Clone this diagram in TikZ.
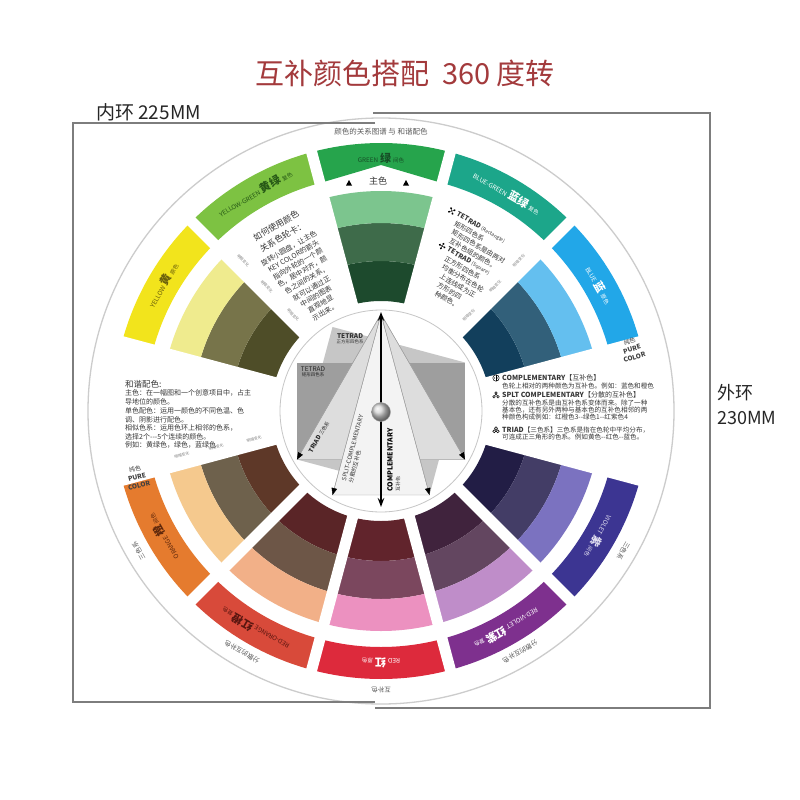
\documentclass[tikz,border=0pt]{standalone}
\usepackage{fontspec}
\setmainfont{Noto Sans CJK SC}
\usetikzlibrary{arrows.meta}
\newcommand\fsz[1]{\fontsize{#1}{#1}\selectfont}
\definecolor{titlered}{RGB}{163,58,60}
\definecolor{framegray}{RGB}{125,125,125}
\definecolor{txtgray}{RGB}{55,55,55}
\definecolor{lblgray}{RGB}{90,90,90}
\definecolor{tG}{RGB}{38,164,76}
\definecolor{tBG}{RGB}{28,166,138}
\definecolor{tB}{RGB}{34,167,232}
\definecolor{tV}{RGB}{60,53,146}
\definecolor{tRV}{RGB}{126,48,142}
\definecolor{tR}{RGB}{221,42,60}
\definecolor{tRO}{RGB}{216,74,58}
\definecolor{tO}{RGB}{229,123,46}
\definecolor{tY}{RGB}{242,228,28}
\definecolor{tYG}{RGB}{125,194,66}
\definecolor{gL}{RGB}{124,197,142}\definecolor{gM}{RGB}{62,107,74}\definecolor{gD}{RGB}{29,74,45}
\definecolor{bL}{RGB}{100,191,239}\definecolor{bM}{RGB}{50,96,122}\definecolor{bD}{RGB}{18,63,92}
\definecolor{vL}{RGB}{123,114,192}\definecolor{vM}{RGB}{67,61,102}\definecolor{vD}{RGB}{34,29,69}
\definecolor{rvL}{RGB}{191,141,201}\definecolor{rvM}{RGB}{99,70,96}\definecolor{rvD}{RGB}{64,35,61}
\definecolor{rL}{RGB}{236,145,192}\definecolor{rM}{RGB}{123,71,94}\definecolor{rD}{RGB}{97,36,44}
\definecolor{roL}{RGB}{242,176,136}\definecolor{roM}{RGB}{109,86,71}\definecolor{roD}{RGB}{90,37,39}
\definecolor{oL}{RGB}{245,201,142}\definecolor{oM}{RGB}{110,97,76}\definecolor{oD}{RGB}{94,56,40}
\definecolor{yL}{RGB}{239,235,142}\definecolor{yM}{RGB}{119,116,74}\definecolor{yD}{RGB}{78,77,40}
\definecolor{gTxt}{RGB}{22,78,38}
\definecolor{ygTxt}{RGB}{38,88,22}
\definecolor{yTxt}{RGB}{105,95,12}
\definecolor{oTxt}{RGB}{95,40,12}
\definecolor{roTxt}{RGB}{90,22,16}
\definecolor{vTxt}{RGB}{225,222,240}
\definecolor{sqgray}{RGB}{198,198,198}
\definecolor{rectgray}{RGB}{158,158,158}
\definecolor{triadgray}{RGB}{221,221,221}
\definecolor{splitgray}{RGB}{243,243,243}
\definecolor{edgegray}{RGB}{160,160,160}
\tikzset{
  lbl/.style={inner sep=0pt, text=lblgray},
  body/.style={inner sep=0pt, text=txtgray, anchor=west},
  tiny/.style={inner sep=0pt, text=gray, font=\fsz{3.8}},
  tip/.style={edgegray, line width=.4pt, -{Triangle[length=7pt,width=5.5pt,color=black,fill=black]}}
}
\newcommand\icoComp[2]{\begin{scope}[shift={(#1,-#2)}]\draw[line width=.5pt] (0,0) circle (3.2);\draw[line width=.6pt] (0,3.2)--(0,-3.2);\fill (-1.6,0) circle (.6);\fill (1.6,0) circle (.6);\end{scope}}
\newcommand\icoSplit[2]{\begin{scope}[shift={(#1,-#2)}]\draw[line width=.5pt] (0,2) circle (1.3) (-2,-1.8) circle (1.3) (2,-1.8) circle (1.3);\draw[line width=.5pt] (0,.7)--(-1.4,-.7) (0,.7)--(1.4,-.7);\end{scope}}
\newcommand\icoTriad[2]{\begin{scope}[shift={(#1,-#2)}]\draw[line width=.5pt] (0,1.7) circle (1.5) (-1.8,-1.2) circle (1.5) (1.8,-1.2) circle (1.5);\end{scope}}
\newcommand\icoTetR{\draw[line width=.4pt] (-2,-2)--(2,2) (-2,2)--(2,-2);\fill (-2,-2) circle (1.1) (2,2) circle (1.1) (-2,2) circle (1.1) (2,-2) circle (1.1);}
\newcommand\icoTetS{\draw[line width=.4pt] (-2.6,0)--(2.6,0) (0,-2.6)--(0,2.6);\fill (-2.6,0) circle (1.1) (2.6,0) circle (1.1) (0,2.6) circle (1.1) (0,-2.6) circle (1.1);}
\begin{document}
\begin{tikzpicture}[x=1pt,y=1pt]
\fill[white] (0,0) rectangle (800,-800);
\useasboundingbox (0,0) rectangle (800,-800);

% title and dimension labels
\node[inner sep=0pt, text=titlered, font=\fsz{29}] (title) at (405,-73) {互补颜色搭配\hspace{0.45em}360 度转};
\node[inner sep=0pt, anchor=west, font=\fsz{19}, text=black!85] (innerlbl) at (96,-112) {内环 225MM};
\node[inner sep=0pt, anchor=west, font=\fsz{18}, text=black!85] (outerlblA) at (717,-393) {外环};
\node[inner sep=0pt, anchor=west, font=\fsz{18}, text=black!85] (outerlblB) at (717,-418) {230MM};

\begin{scope}[shift={(381,-411)}]
  \coordinate (C) at (0,0);
  % white disc
  \fill[white] (C) circle (293);
  \draw[gray!40, line width=1.3pt] (C) circle (293);

  % inner shade blocks
  \foreach \t/\l/\m/\d in {90/gL/gM/gD,30/bL/bM/bD,-30/vL/vM/vD,-60/rvL/rvM/rvD,-90/rL/rM/rD,-120/roL/roM/roD,-150/oL/oM/oD,150/yL/yM/yD}{
    \pgfmathsetmacro\a{\t-15}\pgfmathsetmacro\b{\t+15}
    \fill[\d] (\a:110) arc[start angle=\a,end angle=\b,radius=110] -- (\b:150) arc[start angle=\b,end angle=\a,radius=150] -- cycle;
    \fill[\m] (\a:150) arc[start angle=\a,end angle=\b,radius=150] -- (\b:188) arc[start angle=\b,end angle=\a,radius=188] -- cycle;
    \fill[\l] (\a:188) arc[start angle=\a,end angle=\b,radius=188] -- (\b:220) arc[start angle=\b,end angle=\a,radius=220] -- cycle;
  }
  % outer tabs
  \foreach \t/\c in {60/tBG,30/tB,-30/tV,-60/tRV,-90/tR,-120/tRO,-150/tO,150/tY,120/tYG}{
    \pgfmathsetmacro\a{\t-15}\pgfmathsetmacro\b{\t+15}
    \fill[\c] (\a:236) -- (\a:268) arc[start angle=\a,end angle=\b,radius=268] -- (\b:236) arc[start angle=\b,end angle=\a,radius=236] -- cycle;
  }
  \fill[tG] (75:236) -- (75:268) arc[start angle=75,end angle=105,radius=268] -- (105:236) -- (90:246) -- cycle;
  % white gaps
  \foreach \k in {0,...,11}{
    \pgfmathsetmacro\dd{15+30*\k}
    \draw[white, line width=11pt] (\dd:104) -- (\dd:274);
  }

  % tab labels
  \node[inner sep=0pt, text=gTxt] (tl90) at (90:253) {\fsz{6.3}GREEN\hspace{2pt}{\fsz{11}\bfseries 绿}\hspace{2pt}{\fsz{5.5}间色}};
  \foreach \t/\fg/\en/\zh/\kd in {60/white/BLUE-GREEN/蓝绿/复色,30/white/BLUE/蓝/原色,-30/vTxt/VIOLET/紫/间色,-60/white/RED-VIOLET/红紫/复色,-90/white/RED/红/原色,-120/roTxt/RED-ORANGE/红橙/复色,-150/oTxt/ORANGE/橙/间色,150/yTxt/YELLOW/黄/原色,120/ygTxt/YELLOW-GREEN/黄绿/复色}{
    \pgfmathsetmacro\rr{\t-90}
    \node[inner sep=0pt, text=\fg, rotate=\rr] (tl\t) at (\t:252) {\fsz{6.3}\en\hspace{2pt}{\fsz{11}\bfseries\zh}\hspace{2pt}{\fsz{5.5}\kd}};
  }

  % outer ring captions
  \node[lbl, font=\fsz{7.5}] (capTop) at (90:279) {颜色的关系图谱 与 和谐配色};
  \node[lbl, font=\fsz{6.5}, rotate=-120] (capV) at (-30:280) {三色系};
  \node[lbl, font=\fsz{6.5}, rotate=120] (capO) at (-150:280) {三色系};
  \node[lbl, font=\fsz{6.5}, rotate=-150] (capRV) at (-60:278) {分散的互补色};
  \node[lbl, font=\fsz{6.5}, rotate=150] (capRO) at (-120:278) {分散的互补色};
  \node[lbl, font=\fsz{6.5}, rotate=180] (capR) at (-90:279) {互补色};

  % tiny shade labels
  \foreach \r in {204,169,130}{
    \node[tiny, rotate=-45] at (132.5:\r) {明暗变化};
    \node[tiny, rotate=45] at (47.5:\r) {明暗变化};
    \node[tiny, rotate=15] at (-167.5:\r) {明暗变化};
  }

  % how-to text in the 120 degree slot
  \foreach \r/\s/\txt in {213/8.5/如何使用颜色,200/8.5/关系色轮卡：,187/7/旋转小圆盘，让主色,178/7/KEY COLOR的箭头,169/7/指向外轮的一个颜,160/7/色，居中对齐，颜,151/7/色之间的关系，,141/7/就可以通过正,132/7/中间的图表,123/7/直观地显,114/7/示出来。}{
    \node[inner sep=0pt, text=txtgray, font=\fsz{\s}, rotate=30] at (119.5:\r) {\txt};
  }

  % inner rotating disc
  \fill[white] (C) circle (101);
  \draw[gray!45, line width=.8pt] (C) circle (101);
  \fill[sqgray] (120:97) -- (30:97) -- (-60:97) -- (-150:97) -- cycle;
  \fill[rectgray] (150:97) -- (30:97) -- (-30:97) -- (-150:97) -- cycle;
  \filldraw[fill=triadgray, draw=edgegray, line width=.4pt] (90:97) coordinate (Tp) -- (-150:97) coordinate (TL) -- (-30:97) coordinate (TR) -- cycle;
  \filldraw[fill=splitgray, draw=edgegray, line width=.4pt] (Tp) -- (-120:97) coordinate (SL) -- (-60:97) coordinate (SR) -- cycle;
  \draw[tip] (Tp) -- (TL);
  \draw[tip] (Tp) -- (TR);
  \draw[tip] (Tp) -- (SL);
  \draw[tip] (Tp) -- (SR);
  \coordinate (AT) at (90:99);
  \coordinate (AB) at (-90:96);
  \draw[black, line width=1.5pt, {Stealth[length=9pt,width=6.5pt]}-{Stealth[length=9pt,width=6.5pt]}] (AT) -- (AB);
  \shade[ball color=gray!35] (0,-1) circle (9.5);
  \draw[gray!70, line width=.4pt] (0,-1) circle (9.5);
\end{scope}

% centre labels
\node[inner sep=0pt, align=center, text=black!80, font=\fsz{4.5}] (tetS) at (350,-339) {{\fsz{6.5}\bfseries TETRAD}\\[1pt]正方形四色系};
\node[inner sep=0pt, align=center, text=black!85, font=\fsz{4.5}] (tetR) at (313,-372) {{\fsz{6.5}TETRAD}\\[1pt]矩形四色系};
\node[inner sep=0pt, rotate=60, text=black!85, font=\fsz{6}] (triadlbl) at (319,-437) {\textbf{TRIAD} {\fsz{5}三色系}};
\node[inner sep=0pt, rotate=75, align=left, text=black!80, font=\fsz{6}] (splitlbl) at (356,-449) {SPLIT-COMPLEMENTARY\\[1pt]{\fsz{5.5}分散的互补色}};
\node[inner sep=0pt, rotate=90, text=black, font=\fsz{7}\bfseries] (complbl) at (390,-460) {COMPLEMENTARY};
\node[inner sep=0pt, rotate=90, text=black!80, font=\fsz{5}] (complbl2) at (398,-484) {互补色};

% tetrad text in 60 degree slot
\begin{scope}[shift={(457,-214)}, rotate=-30, transform shape]
  \begin{scope}[shift={(-6,0)}]\icoTetR\end{scope}
  \begin{scope}[shift={(-6+2.3*4,-8.8*4)}]\icoTetS\end{scope}
  \foreach \k/\txt in {0/{\bfseries TETRAD} {\fsz{5}(Rectangle)},1/矩形四色系,2/矩形四色系是由两对,3/互补色组的颜色。,4/{\bfseries TETRAD} {\fsz{5}(Square)},5/正方形四色系,6/均衡分布在色轮,7/上连线成为正,8/方形的四,9/种颜色。}{
    \node[body, font=\fsz{6.7}] at (2.3*\k,-8.8*\k) {\txt};
  }
\end{scope}

% right slot text
\icoComp{496}{378}
\icoSplit{496}{395}
\icoTriad{496}{430}
\node[body, font=\fsz{7}] (c1) at (502,-378) {\textbf{COMPLEMENTARY}【互补色】};
\node[body, font=\fsz{6.6}] (c2) at (502,-386) {色轮上相对的两种颜色为互补色。例如：蓝色和橙色};
\node[body, font=\fsz{7}] (c3) at (502,-395) {\textbf{SPLT COMPLEMENTARY}【分散的互补色】};
\node[body, font=\fsz{6.6}] (c4) at (502,-403) {分散的互补色系是由互补色系变体而来。除了一种};
\node[body, font=\fsz{6.6}] (c5) at (502,-410) {基本色，还有另外两种与基本色的互补色相邻的两};
\node[body, font=\fsz{6.6}] (c6) at (502,-417) {种颜色构成例如：红橙色3-{}-绿色1-{}-红紫色4};
\node[body, font=\fsz{6.6}] (c7) at (502,-430) {{\fsz{7}\textbf{TRIAD}}【三色系】三色系是指在色轮中平均分布，};
\node[body, font=\fsz{6.6}] (c8) at (502,-437) {可连成正三角形的色系。例如黄色-{}-红色-{}-蓝色。};

% left slot text
\node[body, font=\fsz{8.5}] (h1) at (125,-384) {和谐配色:};
\node[body, font=\fsz{7}] (h2) at (125,-393) {主色：在一幅图和一个创意项目中，占主};
\node[body, font=\fsz{7}] (h3) at (125,-402) {导地位的颜色。};
\node[body, font=\fsz{7}] (h4) at (125,-411) {单色配色：运用一颜色的不同色温、色};
\node[body, font=\fsz{7}] (h5) at (125,-420) {调、阴影进行配色。};
\node[body, font=\fsz{7}] (h6) at (125,-428) {相似色系：运用色环上相邻的色系，};
\node[body, font=\fsz{7}] (h7) at (125,-437) {选择2个-{}-{}-5个连续的颜色。};
\node[body, font=\fsz{7}] (h8) at (125,-445) {例如：黄绿色，绿色，蓝绿色};

% pure colour captions
\node[inner sep=0pt, align=center, rotate=17, text=black!75, font=\fontsize{6.5}{8.5}\selectfont] (pureR) at (632,-349) {{\fsz{6}纯色}\\\textbf{PURE}\\\textbf{COLOR}};
\node[inner sep=0pt, align=center, rotate=14, text=black!75, font=\fontsize{6.5}{8.5}\selectfont] (pureL) at (137,-477) {{\fsz{6}纯色}\\\textbf{PURE}\\\textbf{COLOR}};

% main colour marker under green
\node[inner sep=0pt, text=black!80, font=\fsz{9}] (zhuse) at (378,-181) {主色};
\fill[black] (346,-185.5) -- (352,-185.5) -- (349,-180) -- cycle;
\fill[black] (403,-185.5) -- (409,-185.5) -- (406,-180) -- cycle;

% frame lines
\draw[framegray, line width=1.6pt] (375,-123) -- (73,-123) -- (73,-702) -- (375,-702);
\draw[framegray, line width=1.6pt] (373,-113) -- (710,-113) -- (710,-708) -- (375,-708);
\end{tikzpicture}
\end{document}
